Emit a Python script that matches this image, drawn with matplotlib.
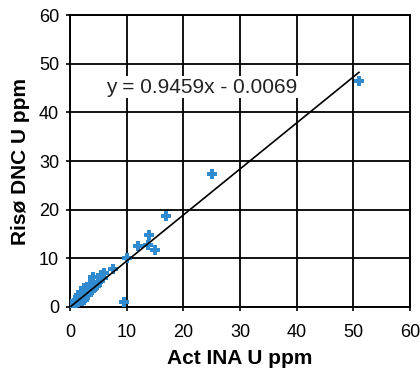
import matplotlib
matplotlib.use("Agg")
import matplotlib.pyplot as plt
import numpy as np

plt.rcParams['font.family'] = ['Liberation Sans', 'DejaVu Sans']

act_ina = [51.0, 25.0, 17.0, 14.0, 12.0, 13.8, 15.0, 9.5, 10.0, 7.5, 6.0, 5.5, 4.0,
           5.0, 4.5, 3.5, 3.0, 3.2, 2.8, 2.5, 2.2, 2.0, 1.8, 1.5, 1.2, 1.0, 0.8, 0.5,
           0.3, 3.8, 4.2, 2.6, 3.4, 2.4, 1.6, 1.4, 2.9, 3.6, 2.1, 1.9, 0.7, 1.1, 4.8,
           5.8, 2.7, 3.1, 1.3, 0.9, 2.3, 3.3]
riso_dnc = [46.5, 27.3, 18.6, 14.8, 12.6, 12.7, 11.7, 1.0, 10.0, 7.8, 7.0, 6.5, 6.2,
            5.2, 4.3, 4.8, 4.0, 3.0, 3.5, 3.8, 2.5, 3.0, 2.2, 1.8, 1.5, 1.0, 0.8, 0.4,
            0.2, 3.4, 3.8, 2.0, 4.2, 1.5, 2.4, 1.0, 2.8, 3.2, 1.2, 1.4, 0.5, 0.6, 4.6,
            6.0, 3.0, 2.4, 2.0, 1.3, 3.0, 3.6]

slope = 0.9459
intercept = -0.0069
fit_x = [0.0, 51.0]

fig = plt.figure(figsize=(4.2, 3.78), dpi=100)
ax = fig.add_axes([0.167, 0.188, 0.809, 0.772])

ax.set_xlim(0, 60)
ax.set_ylim(0, 60)
ax.set_xticks(range(0, 61, 10))
ax.set_yticks(range(0, 61, 10))
ax.grid(True, color='black', linewidth=1.3)
ax.set_axisbelow(True)
for s in ax.spines.values():
    s.set_linewidth(1.4)
    s.set_color('black')
ax.tick_params(length=3, width=1.2, labelsize=13, colors='black')
ax.tick_params(axis='x', pad=9)
ax.tick_params(axis='y', pad=5)

ax.scatter(act_ina, riso_dnc, marker='P', s=45, color='#2f8ad0', linewidths=0, zorder=3)
fx = np.array(fit_x)
ax.plot(fx, slope * fx + intercept, color='black', linewidth=1.2, zorder=4)

ax.text(6.3, 45.2, f"y = {slope}x - {abs(intercept)}", fontsize=15, va='center', ha='left',
        color='#222222', zorder=5,
        bbox=dict(facecolor='white', edgecolor='none', pad=1))

ax.set_xlabel("Act INA U ppm", fontsize=15, fontweight='bold', labelpad=6)
ax.set_ylabel("Risø DNC U ppm", fontsize=15, fontweight='bold', labelpad=6)

fig.savefig("out.png", dpi=100)
